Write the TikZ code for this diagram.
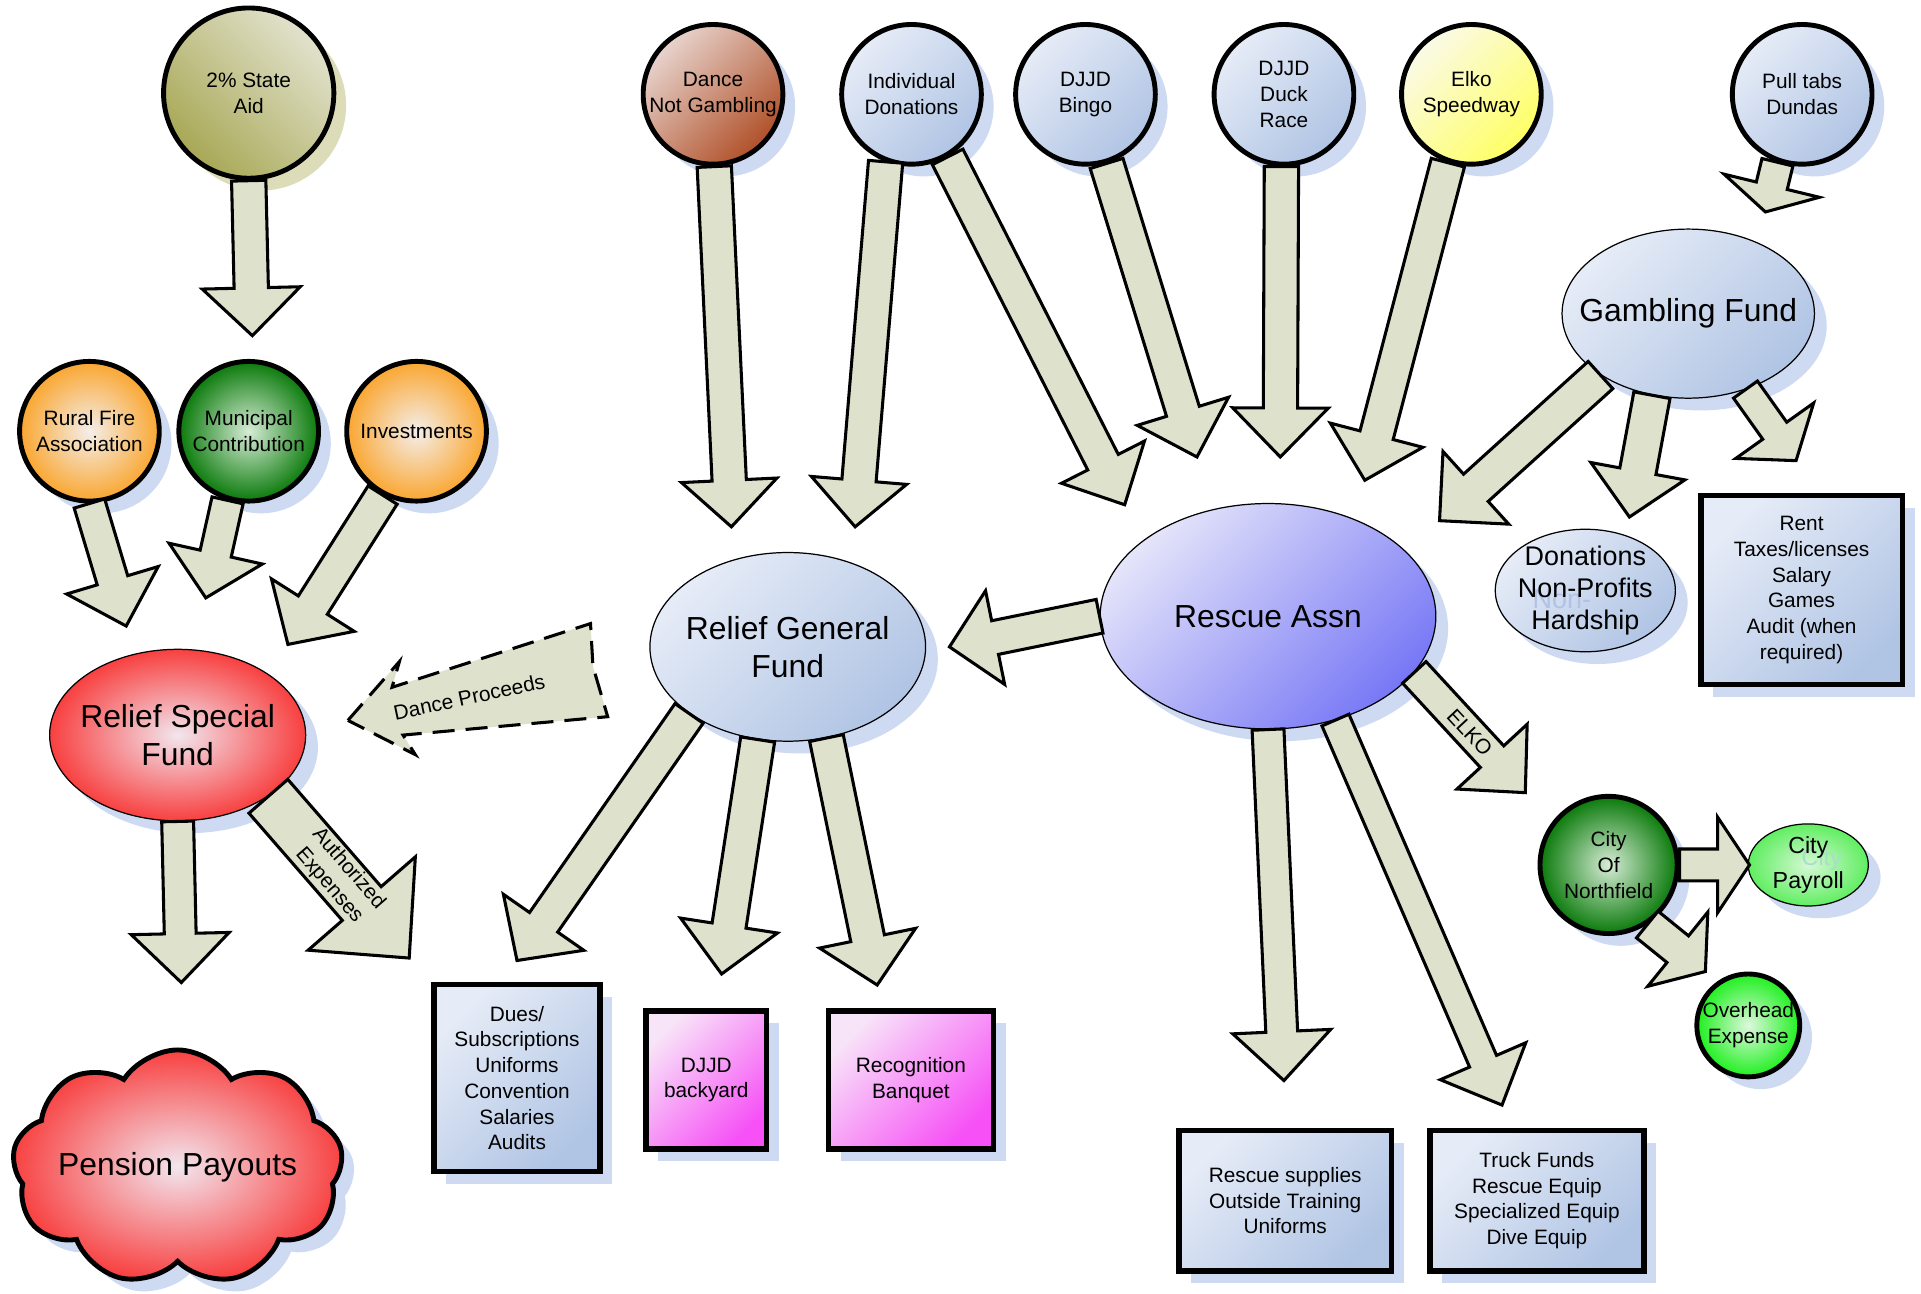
\documentclass[tikz,border=0pt]{standalone}
\usepackage{fontspec}
\setmainfont{Liberation Sans}
\usetikzlibrary{calc,shapes.geometric,shapes.symbols,shadows}

\definecolor{arrowfill}{RGB}{222,226,204}
\definecolor{shadowblue}{RGB}{206,218,242}
\definecolor{shadowolive}{RGB}{220,220,184}
\definecolor{oliveD}{RGB}{168,168,86}
\definecolor{oliveL}{RGB}{226,226,206}
\definecolor{blueD}{RGB}{176,196,228}
\definecolor{blueL}{RGB}{230,236,247}
\definecolor{brownD}{RGB}{176,80,40}
\definecolor{brownL}{RGB}{232,212,206}
\definecolor{yellowD}{RGB}{255,255,100}
\definecolor{yellowL}{RGB}{250,250,232}
\definecolor{orangeD}{RGB}{250,166,48}
\definecolor{orangeL}{RGB}{244,238,234}
\definecolor{greenD}{RGB}{10,122,10}
\definecolor{greenL}{RGB}{214,236,214}
\definecolor{limeD}{RGB}{30,240,30}
\definecolor{limeL}{RGB}{222,248,222}
\definecolor{paleD}{RGB}{96,238,96}
\definecolor{paleL}{RGB}{214,248,214}
\definecolor{violetD}{RGB}{120,120,246}
\definecolor{violetL}{RGB}{228,228,250}
\definecolor{redD}{RGB}{248,64,64}
\definecolor{redL}{RGB}{242,230,238}
\definecolor{pinkD}{RGB}{246,80,246}
\definecolor{pinkL}{RGB}{248,228,248}
\definecolor{ghostblue}{RGB}{178,194,228}
\definecolor{ghostgreen}{RGB}{166,222,200}

\newcommand{\blockarrow}[5]{%
  \coordinate (ba-base) at ($(#2)!#5!(#1)$);
  \draw[blockarr] ($(#1)!#3!90:(#2)$) -- ($(ba-base)!#3!90:(#2)$) -- ($(ba-base)!#4!90:(#2)$) -- (#2)
    -- ($(ba-base)!#4!-90:(#2)$) -- ($(ba-base)!#3!-90:(#2)$) -- ($(#1)!#3!-90:(#2)$) -- cycle;
}

\begin{document}
\begin{tikzpicture}[x=1pt, y=-1pt,
    txt/.style={font=\fontsize{17}{21}\selectfont, align=center},
    bigtxt/.style={font=\fontsize{26}{31}\selectfont, align=center},
    midtxt/.style={font=\fontsize{22}{26}\selectfont, align=center},
    shad/.style={drop shadow={shadow xshift=10pt, shadow yshift=-10pt, fill=#1, opacity=1}},
    shad/.default=shadowblue,
    srcnode/.style={shad=#1, circle, draw, line width=4pt, inner sep=0pt, minimum size=114pt, txt},
    srcnode/.default=shadowblue,
    fundnode/.style={shad, ellipse, draw, line width=1pt, inner sep=-20pt, bigtxt},
    costnode/.style={shad, rectangle, draw, line width=4.5pt, inner sep=0pt, txt},
    blockarr/.style={draw, line width=2.5pt, fill=arrowfill, line join=miter},
    paleblue/.style={top color=blueL, bottom color=blueD, shading angle=45},
    olivefill/.style={top color=oliveL, bottom color=oliveD, shading angle=-45},
    brownfill/.style={top color=brownL, bottom color=brownD, shading angle=45},
    yellowfill/.style={top color=yellowL, bottom color=yellowD, shading angle=45},
    violetfill/.style={top color=violetL, bottom color=violetD, shading angle=45},
    pinkfill/.style={top color=pinkL, bottom color=pinkD, shading angle=45},
    orangefill/.style={inner color=orangeL, outer color=orangeD},
    greenfill/.style={inner color=greenL, outer color=greenD},
    limefill/.style={inner color=limeL, outer color=limeD},
    palefill/.style={inner color=paleL, outer color=paleD},
    redfill/.style={inner color=redL, outer color=redD}
]
    \path[use as bounding box, fill=white] (0,0) rectangle (1568,1056);

    \node[srcnode=shadowolive, minimum size=139pt, olivefill] (sa) at (203,76) {2\% State\\Aid};
    \node[srcnode, brownfill] (dance) at (582,77) {Dance\\Not Gambling};
    \node[srcnode, paleblue] (indiv) at (744,77) {Individual\\Donations};
    \node[srcnode, paleblue] (bingo) at (886,77) {DJJD\\Bingo};
    \node[srcnode, paleblue] (duck) at (1048,77) {DJJD\\Duck\\Race};
    \node[srcnode, yellowfill] (elko) at (1201,77) {Elko\\Speedway};
    \node[srcnode, paleblue] (pull) at (1471,77) {Pull tabs\\Dundas};
    \node[srcnode, orangefill] (rural) at (73,352) {Rural Fire\\Association};
    \node[srcnode, greenfill] (muni) at (203,352) {Municipal\\Contribution};
    \node[srcnode, orangefill] (invest) at (340,352) {Investments};
    \node[srcnode, greenfill, minimum size=112pt] (city) at (1313,706) {City\\Of\\Northfield};
    \node[srcnode, limefill, minimum size=84pt] (over) at (1427,837) {Overhead\\Expense};

    \node[fundnode, paleblue, minimum width=206pt, minimum height=138pt] (gamb) at (1378,256) {Gambling Fund};
    \node[fundnode, paleblue, minimum width=225pt, minimum height=154pt] (rgf) at (643,528) {Relief General\\Fund};
    \node[fundnode, violetfill, minimum width=274pt, minimum height=184pt] (rescue) at (1035,503) {Rescue Assn};
    \node[fundnode, redfill, minimum width=209pt, minimum height=140pt] (rsf) at (145,600) {Relief Special\\Fund};
    \node[fundnode, paleblue, midtxt, minimum width=147pt, minimum height=100pt] (don) at (1294,482)
        {Donations\\\rlap{\hspace{12pt}\raisebox{-9pt}{\color{ghostblue}Non-}}Non-Profits\\Hardship};
    \node[fundnode, palefill, font=\fontsize{19}{23}\selectfont, minimum width=98pt, minimum height=67pt] (payroll) at (1476,706)
        {\rlap{\hspace{11pt}\raisebox{-10pt}{\color{ghostgreen}City}}City\\Payroll};

    \node[costnode, paleblue, minimum width=164.5pt, minimum height=154.5pt] (rent) at (1470.5,481.5) {Rent\\Taxes/licenses\\Salary\\Games\\Audit (when\\required)};
    \node[costnode, paleblue, minimum width=135.5pt, minimum height=152.5pt] (dues) at (422,880) {Dues/\\Subscriptions\\Uniforms\\Convention\\Salaries\\Audits};
    \node[costnode, pinkfill, minimum width=98.5pt, minimum height=112.5pt] (backyard) at (576.5,881.5) {DJJD\\backyard};
    \node[costnode, pinkfill, minimum width=134.5pt, minimum height=112.5pt] (banquet) at (743.5,881.5) {Recognition\\Banquet};
    \node[costnode, paleblue, minimum width=173.5pt, minimum height=114.5pt] (supplies) at (1049,980) {Rescue supplies\\Outside Training\\Uniforms};
    \node[costnode, paleblue, minimum width=174.5pt, minimum height=114.5pt] (truck) at (1254.5,980) {Truck Funds\\Rescue Equip\\Specialized Equip\\Dive Equip};

    \node[shad, cloud, draw, line width=4pt, cloud puffs=9, cloud puff arc=115, aspect=1.4, inner sep=0pt,
        minimum width=270pt, minimum height=192pt, redfill, label={[bigtxt]center:Pension Payouts}] (pension) at (145,953) {};

    \foreach \n/\x/\y in {muni-in/206/274, rsf-in1/103/511, rsf-in2/168/488, rsf-in3/235/526,
        rgf-in1/597/430, rgf-in2/698/430, resc-in1/918/412, resc-in2/977/373, resc-in3/1045/373,
        resc-in4/1114/392, gamb-in/1441/173, don-in1/1175/425, don-in2/1330/422, rent-in/1466/376,
        rgf-in3/775/528, city-in/1245/647, supplies-in/1048/882, truck-in/1226/902,
        dues-in/422/784, backyard-in/589/795, banquet-in/716/804, pension-in/148/802,
        auth-end/334/782, payroll-in/1428/706, over-in/1392/793}
        \coordinate (\n) at (\x,\y);

    \foreach \s/\t/\w/\h/\l in {sa.south/muni-in/14pt/40pt/39pt, rural.south/rsf-in1/13pt/39pt/39pt,
        muni.-107/rsf-in2/13pt/39pt/37pt, invest.-118/rsf-in3/14pt/40pt/38pt,
        dance.-89/rgf-in1/14pt/39pt/38pt, indiv.-111/rgf-in2/14pt/39pt/38pt,
        indiv.-60/resc-in1/14pt/38pt/39pt, bingo.-73/resc-in2/14pt/39pt/39pt,
        duck.-92/resc-in3/14pt/39pt/40pt, elko.-109/resc-in4/14pt/39pt/38pt,
        pull.-110/gamb-in/13pt/40pt/22pt, gamb.215/don-in1/15pt/40pt/40pt,
        gamb.-114/don-in2/15pt/39pt/38pt, gamb.-53/rent-in/12pt/39pt/30pt,
        rescue.west/rgf-in3/14pt/39pt/38pt, rescue.-21/city-in/13pt/39pt/40pt,
        rescue.south/supplies-in/13pt/40pt/40pt, rescue.-57/truck-in/12pt/38pt/39pt,
        rgf.-146/dues-in/14pt/40pt/38pt, rgf.-108/backyard-in/14pt/40pt/40pt,
        rgf.-67/banquet-in/14pt/40pt/39pt, rsf.south/pension-in/13pt/40pt/40pt,
        rsf.-34/auth-end/21pt/58pt/59pt, city.east/payroll-in/13pt/39pt/26pt,
        city.-57/over-in/14pt/39pt/29pt}
        \blockarrow{\s}{\t}{\w}{\h}{\l};

    \draw[blockarr, dash pattern=on 18pt off 9pt] (284,588) -- (326,540) -- (320,561) -- (482,509)
        -- (484,544) -- (496,585) -- (329,600) -- (339,616) -- cycle;
    \node[txt, rotate=12] (dance-lbl) at (383,569) {Dance Proceeds};
    \node[txt, rotate=-49] (auth-lbl) at ($(rsf.-34)!0.5!(auth-end)$) {Authorized\\Expenses};
    \node[txt, rotate=-47] (elko-lbl) at ($(rescue.-21)!0.5!(city-in)$) {ELKO};
\end{tikzpicture}
\end{document}
